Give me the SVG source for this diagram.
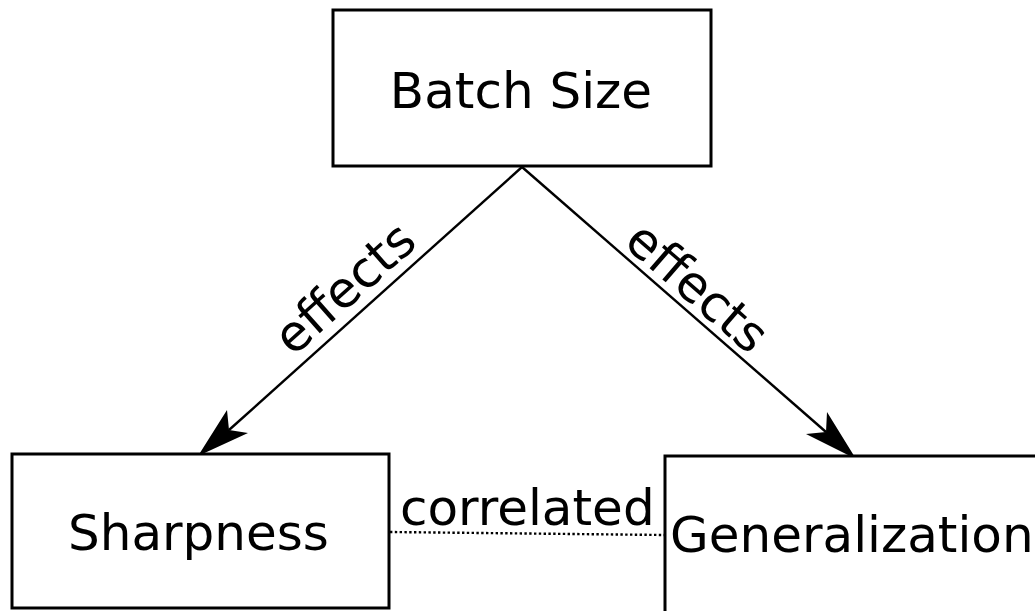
<svg xmlns="http://www.w3.org/2000/svg" width="1035" height="611" viewBox="0 0 1035 611">
  <style>
    .box { fill: #ffffff; stroke: #000000; stroke-width: 3; }
    .label { font-family: "DejaVu Sans", "Liberation Sans", sans-serif; font-size: 50px; fill: #000000; }
    .edge { fill: none; stroke: #000000; stroke-width: 2.4; }
    .dotted { fill: none; stroke: #000000; stroke-width: 2.4; stroke-dasharray: 2.4 2.4; }
    .head { fill: #000000; stroke: none; }
  </style>
  <rect x="0" y="0" width="1035" height="611" fill="#ffffff"/>

  <g id="connectors">
    <line class="edge" x1="522" y1="167" x2="229" y2="430"/>
    <path class="head" d="M198,456 L227,410 L229,430 L248,433 Z"/>
    <line class="edge" x1="522" y1="167" x2="826" y2="432"/>
    <path class="head" d="M856,459 L806,434 L826,432 L827,412 Z"/>
    <line class="dotted" x1="390" y1="532" x2="664" y2="535"/>
    <text class="label" text-anchor="middle" transform="translate(356,301) rotate(-41.75)">effects</text>
    <text class="label" text-anchor="middle" transform="translate(686,300) rotate(41)">effects</text>
    <text class="label" x="400" y="525">correlated</text>
  </g>

  <g id="batch-size">
    <rect class="box" x="333" y="10" width="378" height="156"/>
    <text class="label" x="521" y="108" text-anchor="middle">Batch Size</text>
  </g>

  <g id="sharpness">
    <rect class="box" x="12" y="454" width="377" height="154"/>
    <text class="label" x="68" y="550">Sharpness</text>
  </g>

  <g id="generalization">
    <rect class="box" x="665" y="456" width="400" height="170"/>
    <text class="label" x="670" y="552">Generalization</text>
  </g>
</svg>
